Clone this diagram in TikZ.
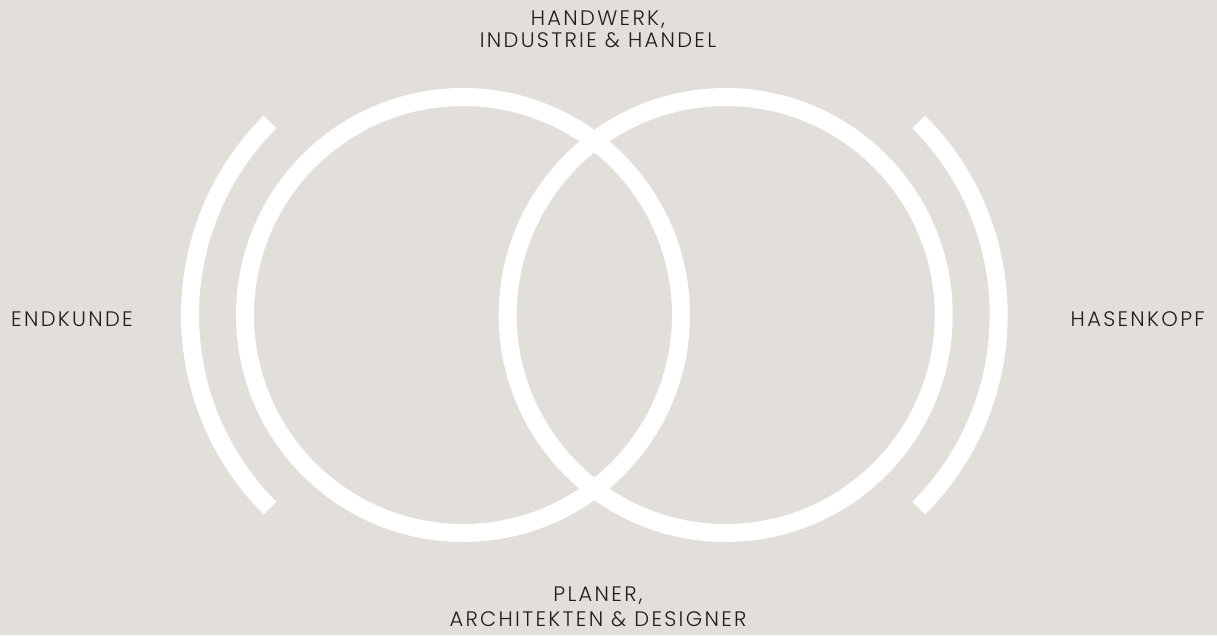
\documentclass[tikz,border=0pt]{standalone}
\usepackage{fontspec}
\setmainfont{Poppins Light}[LetterSpace=11]
\definecolor{bg}{HTML}{E2DEDA}
\definecolor{txt}{HTML}{1E1E1E}
\begin{document}
\begin{tikzpicture}[x=1pt,y=-1pt,
  ring/.style={draw=white,line width=18pt},
  lab/.style={text=txt,inner sep=0pt,font=\fontsize{21}{22.3}\selectfont},
  labb/.style={text=txt,inner sep=0pt,font=\fontsize{21}{25}\selectfont}]
\fill[bg] (0,0) rectangle (1217,635);
\useasboundingbox (0,0) rectangle (1217,635);
\coordinate (cl) at (463,315);
\coordinate (cr) at (725.7,315);
\draw[ring] (cl) circle[radius=218pt];
\draw[ring] (cr) circle[radius=218pt];
\draw[ring] ([shift={(135:273)}]cl) arc[start angle=-135,end angle=-225,radius=273pt];
\draw[ring] ([shift={(45:273)}]cr) arc[start angle=-45,end angle=45,radius=273pt];
\node[lab,anchor=base west] (endk) at (11,326) {ENDKUNDE};
\node[lab,anchor=base east] (hasen) at (1205,326) {HASENKOPF};
\node[lab,align=center,anchor=south] (top) at (598,48.3) {HANDWERK,\\INDUSTRIE \& HANDEL};
\node[labb,align=center,anchor=south] (bot) at (598,627) {PLANER,\\ARCHITEKTEN \& DESIGNER};
\end{tikzpicture}
\end{document}
